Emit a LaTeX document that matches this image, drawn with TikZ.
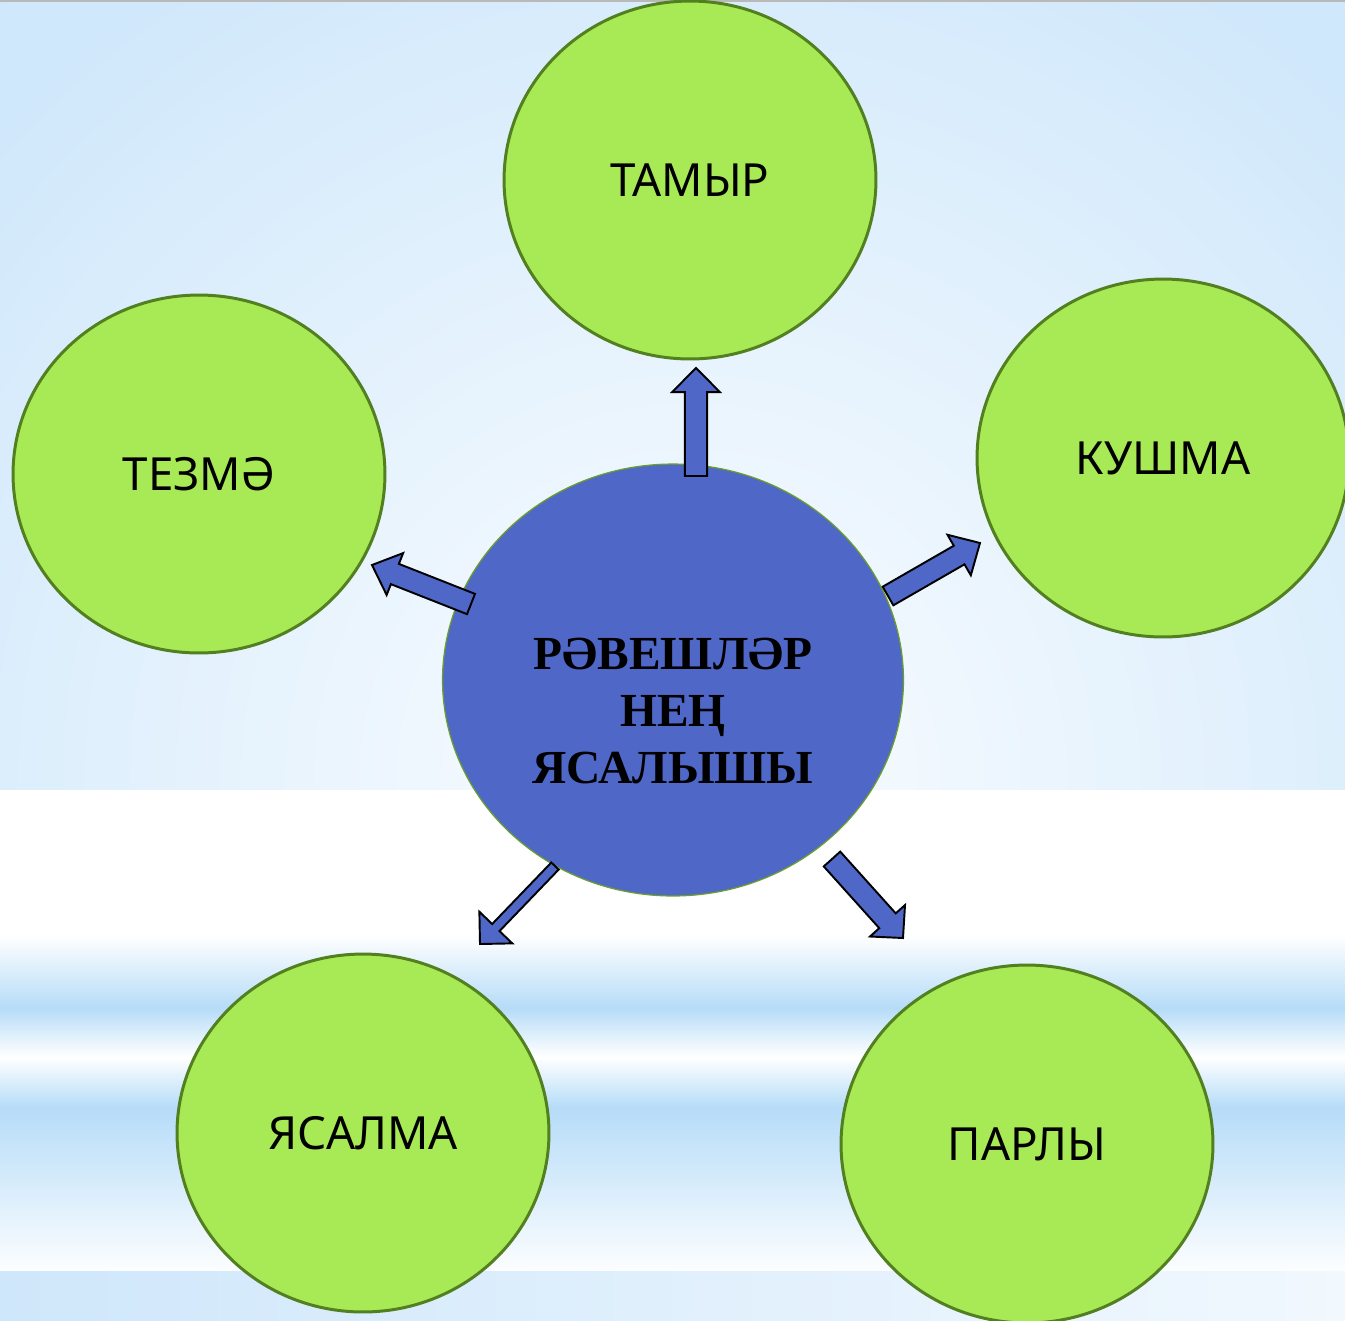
\documentclass[tikz,border=0pt]{standalone}
\usepackage{fontspec}
\setmainfont{Liberation Serif}
\newfontfamily\labfont{Noto Sans}
\usetikzlibrary{shapes.geometric,calc}
\definecolor{bgin}{HTML}{F1F8FE}
\definecolor{bgmid}{HTML}{D0E8FB}
\definecolor{bgout}{HTML}{C3E1F9}
\definecolor{stripe}{HTML}{B6DCF8}
\definecolor{leaffill}{HTML}{A8EA55}
\definecolor{leafline}{HTML}{527F1F}
\definecolor{hubfill}{HTML}{4F68C8}
\definecolor{hubline}{HTML}{6B9E2A}
\pgfdeclareradialshading{bgrad}{\pgfpoint{0bp}{0bp}}{color(0bp)=(bgin); color(5bp)=(bgin); color(22bp)=(bgmid); color(50bp)=(bgout)}
\newcommand\blockarr[5]{%
  \coordinate (tmpH) at ($(#2)!#5!(#1)$);
  \draw[blockarrow] ($(#1)!#3!90:(#2)$) -- ($(tmpH)!#3!90:(#2)$) -- ($(tmpH)!#4!90:(#2)$) -- (#2)
    -- ($(tmpH)!#4!-90:(#2)$) -- ($(tmpH)!#3!-90:(#2)$) -- ($(#1)!#3!-90:(#2)$) -- cycle;}
\begin{document}
\begin{tikzpicture}[x=0.02cm,y=-0.02cm,
  leaf/.style={ellipse, draw=leafline, line width=1.7pt, fill=leaffill, inner sep=0pt,
    minimum width=7.44cm, minimum height=7.16cm, font=\labfont\fontsize{26}{30}\selectfont},
  hub/.style={ellipse, draw=hubline, line width=0.7pt, fill=hubfill, inner sep=0pt,
    minimum width=9.22cm, minimum height=8.64cm},
  hubtext/.style={align=center, inner sep=0pt, font=\bfseries\fontsize{27}{32.5}\selectfont},
  blockarrow/.style={draw=black, fill=hubfill, line width=1.1pt, line join=miter}]
\useasboundingbox (0,0) rectangle (1345,1320);
% background
\begin{scope}
  \clip (0,0) rectangle (1345,790);
  \shade[shading=bgrad] (690,780) circle (1080);
\end{scope}
\fill[white] (0,790) rectangle (1345,935);
\shade[top color=white, bottom color=stripe] (0,935) rectangle (1345,1008);
\shade[top color=stripe, bottom color=white] (0,1008) rectangle (1345,1057);
\shade[top color=white, bottom color=stripe] (0,1057) rectangle (1345,1107);
\shade[top color=stripe, bottom color=white!96!stripe] (0,1107) rectangle (1345,1271);
\shade[left color=bgout!80!white, right color=bgin] (0,1271) rectangle (1345,1320);
\draw[gray!55, line width=0.8pt] (0,1) -- (1345,1);
% nodes
\node[leaf] (tamyr) at (690,180) {ТАМЫР};
\node[leaf] (tezme) at (199,474) {ТЕЗМӘ};
\node[leaf] (kushma) at (1163,458) {КУШМА};
\node[leaf] (yasalma) at (363,1133) {ЯСАЛМА};
\node[leaf] (parly) at (1027,1144) {ПАРЛЫ};
\node[hub] (hub) at (673,680) {};
\node[hubtext] (hubt) at (673,711) {РӘВЕШЛӘР\\НЕҢ\\ЯСАЛЫШЫ};
% arrows
\coordinate (upS) at (696,476);   \coordinate (upT) at (696,368);
\coordinate (lfS) at (471,604);   \coordinate (lfT) at (372,565);
\coordinate (rtS) at (888,596);   \coordinate (rtT) at (980,543);
\coordinate (dlS) at (555,866);   \coordinate (dlT) at (480,944);
\coordinate (drS) at (832,859);   \coordinate (drT) at (903,938);
\blockarr{upS}{upT}{6.3pt}{13.6pt}{13.7pt}
\blockarr{lfS}{lfT}{6.2pt}{12.8pt}{14pt}
\blockarr{rtS}{rtT}{6.1pt}{13.3pt}{13.7pt}
\blockarr{dlS}{dlT}{2.9pt}{13pt}{13pt}
\blockarr{drS}{drT}{6.3pt}{13.4pt}{13.2pt}
\end{tikzpicture}
\end{document}
